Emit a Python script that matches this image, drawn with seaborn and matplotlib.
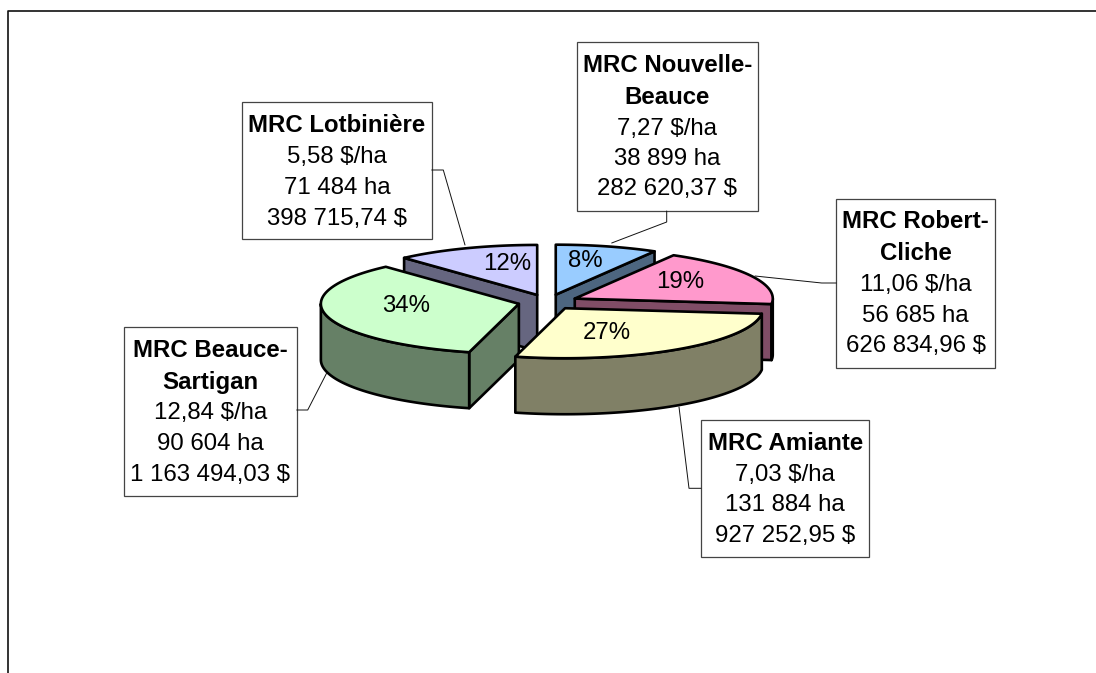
import numpy as np
import matplotlib
matplotlib.use("Agg")
import matplotlib.pyplot as plt
import seaborn as sns

# Data, clockwise from 12 o'clock
NAMES = [["MRC Nouvelle-", "Beauce"], ["MRC Robert-", "Cliche"], ["MRC Amiante"],
         ["MRC Beauce-", "Sartigan"], ["MRC Lotbinière"]]
RATES = [7.27, 11.06, 7.03, 12.84, 5.58]
AREAS = [38899, 56685, 131884, 90604, 71484]
AMOUNTS = [282620.37, 626834.96, 927252.95, 1163494.03, 398715.74]
PCT_LABELS = ["8%", "19%", "27%", "34%", "12%"]
TOP_COLORS = ["#99CCFF", "#FF99CC", "#FFFFCC", "#CCFFCC", "#CCCCFF"]

# Layout, in pixels of the output image
CENTER = (548, 302)
RX, RY = 198, 50
DEPTH = 56
EXPLODE = 30
FONT_SIZE = 17.3
TEXT_SHIFT = 2
DRAW_ORDER = [4, 0, 1, 3, 2]
PCT_POS = [(585, 259), (680, 280), (607, 331), (406, 304), (507, 262)]
BOXES = [(576.7, 41.7, 757.7, 211), (836.3, 198.7, 994.7, 368), (701, 420, 869.3, 556.7),
         (124.3, 326.7, 296.7, 495.7), (242.3, 102.3, 431.7, 239.3)]
ROWS = [[63.3, 95.7, 126.7, 156.7, 186.7], [219.3, 251.7, 283.3, 314, 344.3],
        [441, 472.7, 503.3, 534], [348.3, 380, 411, 442.3, 472.7], [123.3, 155, 186, 216.7]]
LEADERS = [[(666.7, 211), (666.7, 222), (611.7, 243)], [(836.3, 283), (821.7, 283), (755, 276)],
           [(701, 488.3), (689, 488.3), (679, 407)], [(296.7, 410), (307.7, 410), (326.7, 373)],
           [(431.7, 170), (443.3, 170), (465, 245)]]


def fr_number(value, decimals=0):
    text = f"{value:,.{decimals}f}"
    return text.replace(",", " ").replace(".", ",")


def rim(cx, cy, a0, a1):
    t = np.radians(np.linspace(a0, a1, 120))
    return cx + RX * np.sin(t), cy - RY * np.cos(t)


def point(cx, cy, angle):
    t = np.radians(angle)
    return cx + RX * np.sin(t), cy - RY * np.cos(t)


def draw_face(ax, xs, ys, color):
    ax.fill(xs, ys, facecolor=color, edgecolor="black", linewidth=1.9, joinstyle="round")


def draw_slice(ax, a0, a1, color):
    mid = np.radians((a0 + a1) / 2)
    cx = CENTER[0] + EXPLODE * np.sin(mid)
    cy = CENTER[1] - EXPLODE * RY / RX * np.cos(mid)
    side = tuple(c * 0.5 for c in color)

    # cut faces that look towards the viewer
    for angle, visible in ((a0, np.sin(np.radians(a0)) < -1e-6), (a1, np.sin(np.radians(a1)) > 1e-6)):
        if visible:
            px, py = point(cx, cy, angle)
            draw_face(ax, [cx, px, px, cx], [cy, py, py + DEPTH, cy + DEPTH], side)

    # outer wall, front half only
    lo, hi = max(a0, 90), min(a1, 270)
    if hi > lo:
        xs, ys = rim(cx, cy, lo, hi)
        draw_face(ax, np.r_[xs, xs[::-1]], np.r_[ys, ys[::-1] + DEPTH], side)

    xs, ys = rim(cx, cy, a0, a1)
    draw_face(ax, np.r_[cx, xs], np.r_[cy, ys], color)


def main():
    sns.set_theme(style="white")
    plt.rcParams["font.family"] = ["Liberation Sans", "DejaVu Sans"]

    fig = plt.figure(figsize=(10.96, 6.73), dpi=100)
    ax = fig.add_axes([0, 0, 1, 1])
    ax.set_xlim(0, 1096)
    ax.set_ylim(673, 0)
    ax.axis("off")

    # chart frame, cut by the image on the right and at the bottom
    ax.plot([7.5, 7.5, 1096], [673, 10.5, 10.5], color="#111111", lw=1.2)

    palette = sns.color_palette(TOP_COLORS)
    edges = np.r_[0, np.cumsum(AMOUNTS)] / np.sum(AMOUNTS) * 360

    for pts in LEADERS:
        ax.plot(*zip(*pts), color="#111111", lw=0.7)

    for i in DRAW_ORDER:
        draw_slice(ax, edges[i], edges[i + 1], palette[i])

    for label, (x, y) in zip(PCT_LABELS, PCT_POS):
        ax.text(x, y + TEXT_SHIFT, label, ha="center", va="center", fontsize=FONT_SIZE, color="black")

    # data labels
    for i, box in enumerate(BOXES):
        x0, y0, x1, y1 = box
        ax.fill([x0, x1, x1, x0], [y0, y0, y1, y1], facecolor="white", edgecolor="#444444", lw=0.9)
        lines = [(n, "bold") for n in NAMES[i]]
        lines += [(f"{fr_number(RATES[i], 2)} $/ha", "normal"),
                  (f"{fr_number(AREAS[i])} ha", "normal"),
                  (f"{fr_number(AMOUNTS[i], 2)} $", "normal")]
        for (text, weight), y in zip(lines, ROWS[i]):
            ax.text((x0 + x1) / 2, y + TEXT_SHIFT, text, ha="center", va="center", fontsize=FONT_SIZE,
                    fontweight=weight, color="black")

    fig.savefig("out.png", dpi=100, facecolor="white")
    plt.close(fig)


if __name__ == "__main__":
    main()
